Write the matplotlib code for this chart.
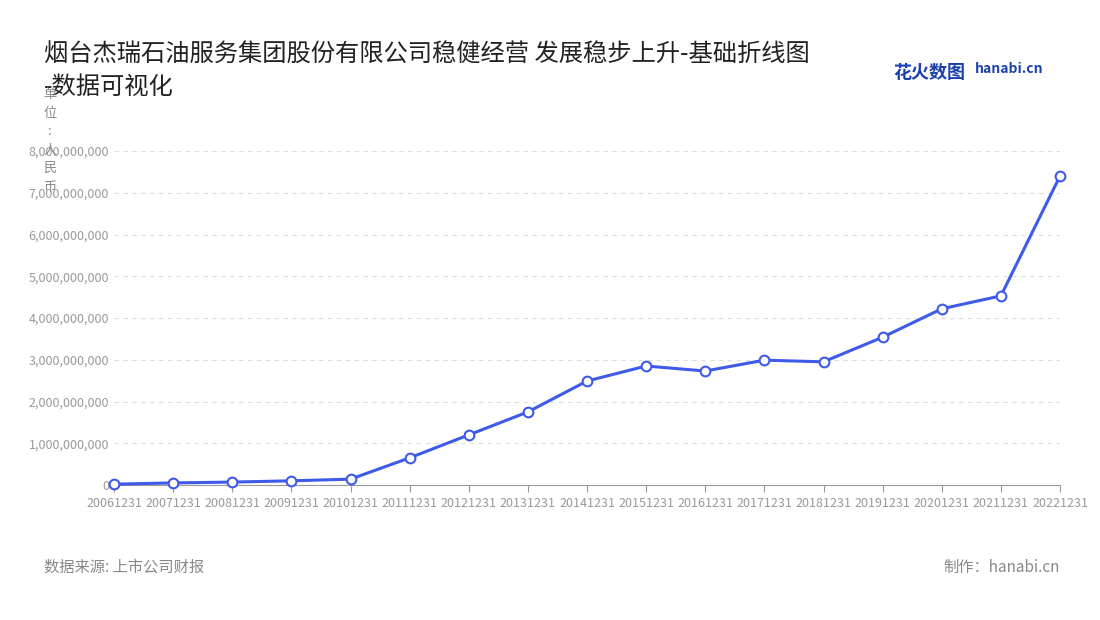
import matplotlib.pyplot as plt
from matplotlib.ticker import FuncFormatter

plt.rcParams['font.family'] = ['Noto Sans CJK SC', 'DejaVu Sans']

dates = ["20061231", "20071231", "20081231", "20091231", "20101231", "20111231",
         "20121231", "20131231", "20141231", "20151231", "20161231", "20171231",
         "20181231", "20191231", "20201231", "20211231", "20221231"]
revenue = [0.02e9, 0.05e9, 0.07e9, 0.10e9, 0.14e9, 0.65e9, 1.20e9, 1.75e9, 2.49e9,
           2.85e9, 2.73e9, 2.99e9, 2.95e9, 3.54e9, 4.22e9, 4.53e9, 7.40e9]

fig = plt.figure(figsize=(11, 6.2), dpi=100)
ax = fig.add_axes([114 / 1100, 1 - 485 / 620, (1060 - 114) / 1100, (485 - 151) / 620])

x = range(len(dates))
ax.plot(x, revenue, color="#3d5ae8", lw=2.2, marker="o", ms=7,
        mfc="white", mec="#3d5ae8", mew=1.5, zorder=3, clip_on=False)

ax.set_xlim(0, len(dates) - 1)
ax.set_ylim(0, 8e9)
ax.set_yticks([i * 1e9 for i in range(9)])
ax.yaxis.set_major_formatter(FuncFormatter(lambda v, p: f"{int(v):,}"))
ax.set_xticks(list(x))
ax.set_xticklabels(dates)
ax.tick_params(axis="both", colors="#999999", labelsize=9, length=0)
ax.tick_params(axis="x", length=5, color="#999999")
ax.grid(axis="y", ls=(0, (4, 4)), color="#dddddd", lw=0.8)
for s in ["top", "right", "left"]:
    ax.spines[s].set_visible(False)
ax.spines["bottom"].set_color("#999999")

fig.text(44 / 1100, 1 - 55 / 620, "烟台杰瑞石油服务集团股份有限公司稳健经营 发展稳步上升-基础折线图",
         fontsize=17.5, color="#222222", va="center")
fig.text(44 / 1100, 1 - 87 / 620, "-数据可视化", fontsize=17.5, color="#222222", va="center")
fig.text(50 / 1100, 1 - 88 / 620, "单\n位\n:\n人\n民\n币", fontsize=9.5, color="#888888",
         ha="center", va="top", linespacing=1.55)
fig.text(44 / 1100, 1 - 567 / 620, "数据来源: 上市公司财报", fontsize=11, color="#888888", va="center")
fig.text(1060 / 1100, 1 - 567 / 620, "制作：hanabi.cn", fontsize=11, color="#888888",
         va="center", ha="right")
fig.text(893 / 1100, 1 - 72 / 620, "花火数图", fontsize=13, color="#1d3fb0",
         fontweight="bold", va="center")
fig.text(975 / 1100, 1 - 69 / 620, "hanabi.cn", fontsize=10, color="#1d3fb0",
         fontweight="bold", va="center")

fig.savefig("out.png", dpi=100, facecolor="white")
